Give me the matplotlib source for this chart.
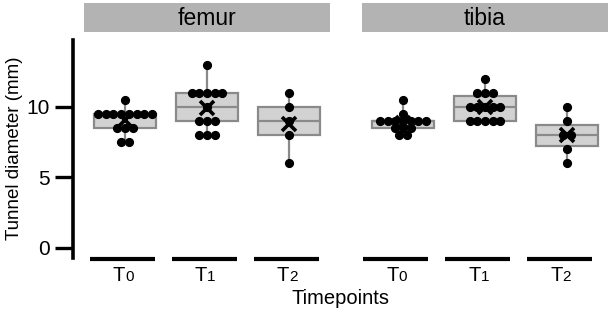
import numpy as np
import matplotlib
matplotlib.use("Agg")
import matplotlib.pyplot as plt

plt.rcParams['font.family'] = ['Liberation Sans', 'DejaVu Sans']

timepoints = ["0", "1", "2"]
panels = ["femur", "tibia"]

femur_T0 = [10.5] + [9.5] * 8 + [8.5] * 3 + [7.5] * 2
femur_T1 = [13] + [11] * 5 + [10] + [9] * 3 + [8] * 3
femur_T2 = [11, 10, 9, 8, 6]
tibia_T0 = [10.5, 9.5] + [9] * 7 + [8.5] * 3 + [8] * 2
tibia_T1 = [12] + [11] * 3 + [10] * 5 + [9] * 5
tibia_T2 = [10, 9, 8, 8, 7, 6]

data = {"femur": [femur_T0, femur_T1, femur_T2],
        "tibia": [tibia_T0, tibia_T1, tibia_T2]}

W, H = 613, 315
fig = plt.figure(figsize=(W / 100, H / 100), dpi=100)

def fx(px):
    return px / W

def fy(py):
    return 1 - py / H

ax_top, ax_bot = 40, 258
panel_x = [(84, 330), (362, 608)]
line_shift = [-0.03, -0.09]

for k, (name, (x0, x1)) in enumerate(zip(panels, panel_x)):
    ax = fig.add_axes([fx(x0), fy(ax_bot), fx(x1 - x0), (ax_bot - ax_top) / H])
    groups = data[name]
    pos = np.arange(len(groups))
    ax.boxplot(groups, positions=pos, widths=0.75, whis=(0, 100),
               patch_artist=True, showfliers=False, showcaps=False,
               medianprops=dict(color='#8a8a8a', lw=1.6),
               boxprops=dict(facecolor='#d2d2d2', edgecolor='#8a8a8a', lw=1.6),
               whiskerprops=dict(color='#8a8a8a', lw=1.6), zorder=1)
    d = 0.094
    for i, g in enumerate(groups):
        vals, counts = np.unique(g, return_counts=True)
        for v, c in zip(vals, counts):
            offs = (np.arange(c) - (c - 1) / 2) * d
            ax.plot(i + offs, [v] * c, 'o', color='black', ms=5.6, zorder=3)
        ax.plot(i, np.mean(g), marker='x', color='black', ms=10, mew=2.6, zorder=4)
    ax.set_xlim(-0.5, len(groups) - 0.5)
    ax.set_ylim(-0.71, 14.75)
    ax.set_xticks([])
    for s in ['top', 'right', 'bottom']:
        ax.spines[s].set_visible(False)
    if k == 0:
        ax.spines['left'].set_position(('outward', 8))
        ax.spines['left'].set_linewidth(2.6)
        ax.set_yticks([0, 5, 10])
        ax.tick_params(axis='y', length=13, width=2.4, labelsize=15, pad=3.5)
    else:
        ax.spines['left'].set_visible(False)
        ax.set_yticks([])
    # category underlines and labels
    for i, t in enumerate(timepoints):
        c = i + line_shift[k]
        ax.plot([c - 0.395, c + 0.395], [-0.005, -0.005], color='black', lw=3.0,
                transform=ax.get_xaxis_transform(), clip_on=False,
                solid_capstyle='butt')
        ax.annotate("T", xy=(c, -0.005), xycoords=ax.get_xaxis_transform(),
                    xytext=(2, -5), textcoords='offset points',
                    ha='right', va='top', fontsize=14.5)
        ax.annotate(t, xy=(c, -0.005), xycoords=ax.get_xaxis_transform(),
                    xytext=(2, -7.8), textcoords='offset points',
                    ha='left', va='top', fontsize=11)
    # strip header
    sax = fig.add_axes([fx(x0), fy(32), fx(x1 - x0), 29 / H])
    sax.set_facecolor('#b3b3b3')
    sax.set_xticks([]); sax.set_yticks([])
    for s in sax.spines.values():
        s.set_visible(False)
    sax.text(0.5, 0.45, name, ha='center', va='center', fontsize=16.5,
             transform=sax.transAxes)

fig.text(fx(15), fy(148), "Tunnel diameter (mm)", rotation=90,
         ha='center', va='center', fontsize=13.5)
fig.text(fx(341), fy(298), "Timepoints", ha='center', va='center', fontsize=14.5)

fig.savefig("out.png", dpi=100)
